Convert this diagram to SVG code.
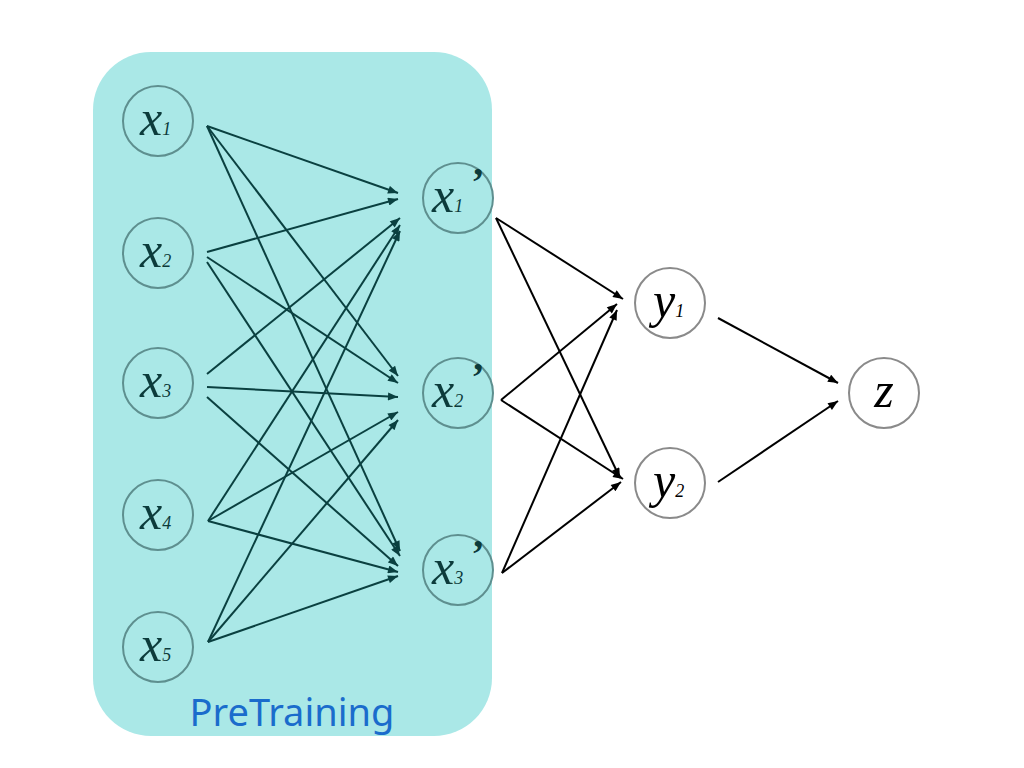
<svg xmlns="http://www.w3.org/2000/svg" width="1024" height="768" viewBox="0 0 1024 768">
<style>
.in circle{fill:none;stroke:#5e8f8f;stroke-width:2}
.out circle{fill:#fff;stroke:#8a8a8a;stroke-width:2}
.v{font-family:"Liberation Serif","Times New Roman",serif;font-style:italic;font-size:50px}
.s{font-size:18px}
.p{font-size:40px;font-style:normal;font-weight:bold}
.in text{fill:#0c3b3b}
.out text{fill:#000}
.ci line{stroke:#0a4040;stroke-width:2;marker-end:url(#ha)}
.co line{stroke:#000;stroke-width:2;marker-end:url(#hb)}
.lbl{font-family:"Noto Sans","Open Sans",sans-serif;font-size:38px;fill:#1a6ccc}
</style>
<defs>
<marker id="ha" viewBox="0 0 10 8" refX="10" refY="4" markerWidth="11" markerHeight="8" markerUnits="userSpaceOnUse" orient="auto"><path d="M0,0L10,4L0,8z" fill="#0a4040"/></marker>
<marker id="hb" viewBox="0 0 10 8" refX="10" refY="4" markerWidth="11" markerHeight="8" markerUnits="userSpaceOnUse" orient="auto"><path d="M0,0L10,4L0,8z" fill="#000"/></marker>
</defs>
<rect width="1024" height="768" fill="#fff"/>
<g id="pretraining">
<rect x="93" y="52" width="399" height="684" rx="58" fill="#aae8e7"/>
<text class="lbl" x="292" y="726" text-anchor="middle">PreTraining</text>
</g>
<g id="connectors">
<g class="ci">
<line x1="207" y1="126" x2="398" y2="193"/>
<line x1="207" y1="126" x2="398" y2="376"/>
<line x1="207" y1="126" x2="400" y2="551"/>
<line x1="207" y1="252" x2="398" y2="199"/>
<line x1="207" y1="257" x2="398" y2="383"/>
<line x1="207" y1="262" x2="400" y2="556"/>
<line x1="207" y1="374" x2="400" y2="218"/>
<line x1="207" y1="387" x2="398" y2="397"/>
<line x1="207" y1="397" x2="398" y2="566"/>
<line x1="208" y1="521" x2="400" y2="225"/>
<line x1="208" y1="521" x2="398" y2="412"/>
<line x1="208" y1="521" x2="398" y2="572"/>
<line x1="208" y1="642" x2="400" y2="231"/>
<line x1="208" y1="642" x2="398" y2="420"/>
<line x1="208" y1="642" x2="398" y2="576"/>
</g>
<g class="co">
<line x1="496" y1="218" x2="623" y2="299"/>
<line x1="496" y1="218" x2="620" y2="478"/>
<line x1="501" y1="400" x2="617" y2="304"/>
<line x1="501" y1="400" x2="623" y2="479"/>
<line x1="502" y1="573" x2="617" y2="310"/>
<line x1="502" y1="573" x2="621" y2="482"/>
<line x1="718" y1="318" x2="838" y2="383"/>
<line x1="718" y1="482" x2="838" y2="401"/>
</g>
</g>
<g id="x1" class="in"><circle cx="158" cy="121" r="35"/><text class="v" x="140" y="135">x<tspan class="s">1</tspan></text></g>
<g id="x2" class="in"><circle cx="158" cy="253" r="35"/><text class="v" x="140" y="267">x<tspan class="s">2</tspan></text></g>
<g id="x3" class="in"><circle cx="158" cy="383" r="35"/><text class="v" x="140" y="397">x<tspan class="s">3</tspan></text></g>
<g id="x4" class="in"><circle cx="158" cy="515" r="35"/><text class="v" x="140" y="529">x<tspan class="s">4</tspan></text></g>
<g id="x5" class="in"><circle cx="158" cy="647" r="35"/><text class="v" x="140" y="661">x<tspan class="s">5</tspan></text></g>
<g id="x1p" class="in"><circle cx="458" cy="198" r="35"/><text class="v" x="432" y="212">x<tspan class="s">1</tspan><tspan class="p" dx="8" dy="-17">’</tspan></text></g>
<g id="x2p" class="in"><circle cx="458" cy="393" r="35"/><text class="v" x="432" y="407">x<tspan class="s">2</tspan><tspan class="p" dx="8" dy="-17">’</tspan></text></g>
<g id="x3p" class="in"><circle cx="458" cy="570" r="35"/><text class="v" x="432" y="584">x<tspan class="s">3</tspan><tspan class="p" dx="8" dy="-17">’</tspan></text></g>
<g id="y1" class="out"><circle cx="670" cy="303" r="35"/><text class="v" x="653" y="317">y<tspan class="s">1</tspan></text></g>
<g id="y2" class="out"><circle cx="670" cy="483" r="35"/><text class="v" x="653" y="497">y<tspan class="s">2</tspan></text></g>
<g id="z" class="out"><circle cx="884" cy="393" r="35"/><text class="v" x="884" y="407" text-anchor="middle">z</text></g>
</svg>
